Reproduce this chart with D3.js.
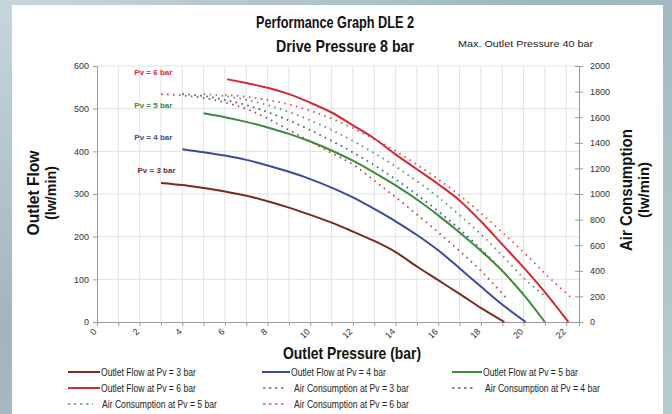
<!DOCTYPE html>
<html>
<head>
<meta charset="utf-8">
<script src="https://cdn.jsdelivr.net/npm/d3@7"></script>
<style>
  body { margin: 0; }
  svg { display: block; }
</style>
</head>
<body>
<div id="chart"></div>
<script>
// Performance graph DLE 2 - outlet flow and air consumption vs outlet pressure

var pressureTicks = [0, 2, 4, 6, 8, 10, 12, 14, 16, 18, 20, 22];
var flowTicks = [0, 100, 200, 300, 400, 500, 600];
var airTicks = [0, 200, 400, 600, 800, 1000, 1200, 1400, 1600, 1800, 2000];

// outlet flow (lw/min), [pressure, flow]
var flowPv3 = [[3, 326], [4, 321], [5, 314], [6, 306], [7, 296], [8, 283], [9, 268], [10, 251], [11, 233], [12, 212], [13, 190], [14, 164], [15, 130], [16, 98], [17, 66], [18, 33], [19.1, 0]];
var flowPv4 = [[4, 405], [5, 398], [6, 390], [7, 380], [8, 367], [9, 352], [10, 335], [11, 315], [12, 292], [13, 265], [14, 236], [15, 204], [16, 168], [17, 126], [18, 83], [19, 41], [20.1, 0]];
var flowPv5 = [[5, 489], [6, 480], [7, 469], [8, 456], [9, 441], [10, 423], [11, 402], [12, 378], [13, 350], [14, 320], [15, 287], [16, 250], [17, 210], [18, 167], [19, 120], [20, 64], [21, 0]];
var flowPv6 = [[6.1, 569], [7, 560], [8, 549], [9, 534], [10, 514], [11, 491], [12, 461], [13, 430], [14, 393], [15, 358], [16, 323], [17, 285], [18, 236], [19, 182], [20, 128], [21, 70], [22.1, 0]];

// air consumption (lw/min), [pressure, air]
var airPv3 = [[3, 1780], [4, 1770], [5, 1750], [6, 1715], [7, 1665], [8, 1590], [9, 1500], [10, 1410], [11, 1320], [12, 1230], [13, 1105], [14, 975], [15, 840], [16, 700], [17, 555], [18, 400], [19.15, 195]];
var airPv4 = [[4, 1780], [5, 1765], [6, 1735], [7, 1695], [8, 1640], [9, 1575], [10, 1500], [11, 1415], [12, 1325], [13, 1225], [14, 1115], [15, 995], [16, 865], [17, 725], [18, 570], [19, 400], [20.1, 200]];
var airPv5 = [[5, 1780], [6, 1765], [7, 1735], [8, 1695], [9, 1640], [10, 1575], [11, 1500], [12, 1415], [13, 1320], [14, 1215], [15, 1100], [16, 975], [17, 835], [18, 685], [19, 520], [20, 345], [21.1, 190]];
var airPv6 = [[6, 1775], [7, 1760], [8, 1735], [9, 1700], [10, 1650], [11, 1590], [12, 1515], [13, 1430], [14, 1335], [15, 1230], [16, 1115], [17, 990], [18, 850], [19, 700], [20, 545], [21, 380], [22.2, 195]];

var curveLabels = ["Pv = 6 bar", "Pv = 5 bar", "Pv = 4 bar", "Pv = 3 bar"];
var curveLabelValues = [578, 502, 427, 350];

var width = 672, height = 414;
var margin = {left: 97, right: 93, top: 66, bottom: 92};
var innerW = width - margin.left - margin.right;
var innerH = height - margin.top - margin.bottom;

var c3 = "#7d2a1e", c4 = "#3b4aa0", c5 = "#3d8c3a", c6 = "#d42a34";

var series = [
    {name: "Outlet Flow at Pv = 3 bar", data: flowPv3, color: c3, air: false},
    {name: "Outlet Flow at Pv = 4 bar", data: flowPv4, color: c4, air: false},
    {name: "Outlet Flow at Pv = 5 bar", data: flowPv5, color: c5, air: false},
    {name: "Outlet Flow at Pv = 6 bar", data: flowPv6, color: c6, air: false},
    {name: "Air Consumption at Pv = 3 bar", data: airPv3, color: "#b8485a", air: true},
    {name: "Air Consumption at Pv = 4 bar", data: airPv4, color: "#4a5c8c", air: true},
    {name: "Air Consumption at Pv = 5 bar", data: airPv5, color: "#5c9a78", air: true},
    {name: "Air Consumption at Pv = 6 bar", data: airPv6, color: "#e0505e", air: true}
];

// squeeze text to mimic a narrow face
function condense(sel, factor) {
    sel.each(function() {
        var w = this.getComputedTextLength();
        d3.select(this).attr("textLength", w * factor).attr("lengthAdjust", "spacingAndGlyphs");
    });
}
function fitTo(sel, len) {
    sel.attr("textLength", len).attr("lengthAdjust", "spacingAndGlyphs");
}

var svg = d3.select("#chart").append("svg")
    .attr("width", width)
    .attr("height", height);

// backdrop
var defs = svg.append("defs");
var grad = defs.append("linearGradient").attr("id", "bg")
    .attr("x1", "0").attr("y1", "0").attr("x2", "1").attr("y2", "1");
grad.append("stop").attr("offset", "0%").attr("stop-color", "#c7d6dc");
grad.append("stop").attr("offset", "40%").attr("stop-color", "#9fb6bf");
grad.append("stop").attr("offset", "100%").attr("stop-color", "#b9cbd2");
svg.append("rect").attr("width", width).attr("height", height).attr("fill", "url(#bg)");
svg.append("rect")
    .attr("x", 12).attr("y", 5)
    .attr("width", 651).attr("height", 409)
    .attr("fill", "#ffffff");

var x = d3.scaleLinear().domain([0, 22.6]).range([0, innerW]);
var yFlow = d3.scaleLinear().domain([0, 600]).range([innerH, 0]);
var yAir = d3.scaleLinear().domain([0, 2000]).range([innerH, 0]);

var g = svg.append("g")
    .attr("transform", "translate(" + margin.left + "," + margin.top + ")");

// grid
g.append("g").attr("class", "grid")
    .selectAll("line.v").data(d3.range(1, 23))
    .enter().append("line")
    .attr("x1", function(d) { return x(d); })
    .attr("x2", function(d) { return x(d); })
    .attr("y1", 0).attr("y2", innerH)
    .attr("stroke", "#e2e2e2").attr("stroke-width", 1);

g.append("g").attr("class", "grid")
    .selectAll("line.h").data(flowTicks.slice(1))
    .enter().append("line")
    .attr("x1", 0).attr("x2", innerW)
    .attr("y1", function(d) { return yFlow(d); })
    .attr("y2", function(d) { return yFlow(d); })
    .attr("stroke", "#e2e2e2").attr("stroke-width", 1);

var tickFont = "Liberation Sans, Arial, sans-serif";

// axes
var xAxis = d3.axisBottom(x).tickValues(d3.range(0, 23)).tickSize(4).tickFormat("");
var gx = g.append("g").attr("transform", "translate(0," + innerH + ")").call(xAxis);
gx.selectAll("line, path").attr("stroke", "#999");

gx.selectAll("text.lbl").data(pressureTicks)
    .enter().append("text")
    .attr("class", "lbl")
    .attr("transform", function(d) { return "translate(" + (x(d) - 2) + ",8) rotate(-45)"; })
    .attr("text-anchor", "end")
    .attr("dy", "0.35em")
    .attr("fill", "#333")
    .style("font-family", tickFont)
    .style("font-size", "9px")
    .text(function(d) { return d; });

var gyl = g.append("g").call(d3.axisLeft(yFlow).tickValues(flowTicks).tickSize(4).tickPadding(4).tickFormat(d3.format("d")));
gyl.selectAll("line, path").attr("stroke", "#999");
gyl.selectAll("text").attr("fill", "#333").style("font-family", tickFont).style("font-size", "9px");

var gyr = g.append("g").attr("transform", "translate(" + innerW + ",0)")
    .call(d3.axisRight(yAir).tickValues(airTicks).tickSize(4).tickPadding(7).tickFormat(d3.format("d")));
gyr.selectAll("line, path").attr("stroke", "#999");
gyr.selectAll(".tick line").attr("x1", -4);
gyr.selectAll("text").attr("fill", "#333").style("font-family", tickFont).style("font-size", "9px");

// curves
var lineFlow = d3.line()
    .x(function(d) { return x(d[0]); })
    .y(function(d) { return yFlow(d[1]); })
    .curve(d3.curveMonotoneX);
var lineAir = d3.line()
    .x(function(d) { return x(d[0]); })
    .y(function(d) { return yAir(d[1]); })
    .curve(d3.curveMonotoneX);

g.selectAll("path.air").data(series.filter(function(s) { return s.air; }))
    .enter().append("path")
    .attr("class", "air")
    .attr("d", function(s) { return lineAir(s.data); })
    .attr("fill", "none")
    .attr("stroke", function(s) { return s.color; })
    .attr("stroke-width", 1.8)
    .attr("stroke-dasharray", "1.6,4.4");

g.selectAll("path.flow").data(series.filter(function(s) { return !s.air; }))
    .enter().append("path")
    .attr("class", "flow")
    .attr("d", function(s) { return lineFlow(s.data); })
    .attr("fill", "none")
    .attr("stroke", function(s) { return s.color; })
    .attr("stroke-width", 2);

// curve labels
var labelColors = [c6, c5, c4, c3];
g.selectAll("text.pv").data(curveLabels)
    .enter().append("text")
    .attr("class", "pv")
    .attr("x", function(d, i) { return i === 3 ? x(1.9) : x(1.75); })
    .attr("y", function(d, i) { return yFlow(curveLabelValues[i]); })
    .attr("fill", function(d, i) { return labelColors[i]; })
    .style("font-family", tickFont)
    .style("font-size", "8px")
    .style("font-weight", "bold")
    .text(function(d) { return d; });

// titles
var titleFont = "Liberation Sans, Arial, sans-serif";
svg.append("text").attr("x", 335).attr("y", 28).attr("text-anchor", "middle")
    .style("font-family", titleFont).style("font-size", "17px").style("font-weight", "bold")
    .attr("fill", "#111").text("Performance Graph DLE 2")
    .call(fitTo, 158);
svg.append("text").attr("x", 345).attr("y", 52).attr("text-anchor", "middle")
    .style("font-family", titleFont).style("font-size", "17px").style("font-weight", "bold")
    .attr("fill", "#111").text("Drive Pressure 8 bar")
    .call(fitTo, 138);
svg.append("text").attr("x", 458).attr("y", 47)
    .style("font-family", titleFont).style("font-size", "9.5px")
    .attr("fill", "#222").text("Max. Outlet Pressure 40 bar")
    .call(fitTo, 135);

svg.append("text").attr("x", 352).attr("y", 359).attr("text-anchor", "middle")
    .style("font-family", titleFont).style("font-size", "17px").style("font-weight", "bold")
    .attr("fill", "#111").text("Outlet Pressure (bar)")
    .call(fitTo, 138);

function yTitle(cx, cy, lines, lens) {
    svg.append("text")
        .attr("transform", "translate(" + cx + "," + cy + ") rotate(-90)")
        .attr("text-anchor", "middle")
        .style("font-family", titleFont).style("font-weight", "bold").style("font-size", "17px")
        .attr("fill", "#111").text(lines[0])
        .call(fitTo, lens[0]);
    svg.append("text")
        .attr("transform", "translate(" + (cx + 17) + "," + cy + ") rotate(-90)")
        .attr("text-anchor", "middle")
        .style("font-family", titleFont).style("font-weight", "bold").style("font-size", "14px")
        .attr("fill", "#111").text(lines[1])
        .call(fitTo, lens[1]);
}
yTitle(39, 193, ["Outlet Flow", "(lw/min)"], [85, 54]);
yTitle(632, 190, ["Air Consumption", "(lw/min)"], [122, 56]);

// legend
var legendPos = [
    [68, 372, 32], [262, 372, 28], [452, 372, 30],
    [68, 388, 32], [263, 388, 22], [452, 388, 24],
    [68, 404, 25], [263, 404, 22]
];
var legend = svg.append("g").attr("class", "legend");
series.forEach(function(s, i) {
    var p = legendPos[i];
    var item = legend.append("g").attr("transform", "translate(" + p[0] + "," + p[1] + ")");
    item.append("line")
        .attr("x1", 0).attr("x2", p[2]).attr("y1", 0).attr("y2", 0)
        .attr("stroke", s.color)
        .attr("stroke-width", s.air ? 1.5 : 2)
        .attr("stroke-dasharray", s.air ? "2.5,3.5" : null);
    item.append("text")
        .attr("x", p[2] + (s.air ? 9 : 1)).attr("y", 0).attr("dy", "0.35em")
        .style("font-family", titleFont).style("font-size", "10px")
        .attr("fill", "#222")
        .text(s.name)
        .call(condense, 0.86);
});
</script>
</body>
</html>
